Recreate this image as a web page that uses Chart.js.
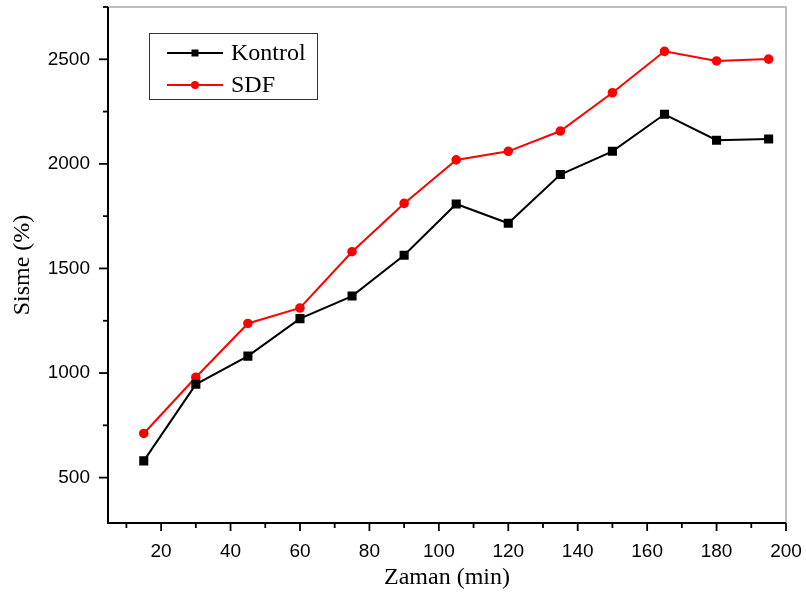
<!DOCTYPE html>
<html>
<head>
<meta charset="utf-8">
<script src="https://cdn.jsdelivr.net/npm/chart.js@4.4.1/dist/chart.umd.min.js"></script>
<style>
  html, body { margin: 0; padding: 0; background: #fff; }
  #wrap { width: 806px; height: 595px; }
</style>
</head>
<body>
<div id="wrap"><canvas id="chart" width="806" height="595"></canvas></div>
<script>
// Data
const zaman = [15, 30, 45, 60, 75, 90, 105, 120, 135, 150, 165, 180, 195];
const kontrol = [580, 946, 1081, 1260, 1368, 1563, 1808, 1716, 1949, 2060, 2237, 2113, 2119];
const sdf = [711, 980, 1237, 1311, 1580, 1811, 2019, 2060, 2157, 2340, 2538, 2492, 2501];
const xTicks = [20, 40, 60, 80, 100, 120, 140, 160, 180, 200];
const yTicks = [500, 1000, 1500, 2000, 2500];

const tickFont = { family: "'Liberation Sans', Arial, sans-serif", size: 19 };
const serif = "'Liberation Serif', 'Times New Roman', serif";

function noPadding(scale) {
    scale.paddingTop = 0;
    scale.paddingBottom = 0;
    scale.paddingLeft = 0;
    scale.paddingRight = 0;
}

// Draws the axis frame, outward tick marks and the boxed legend
const framePlugin = {
    id: 'frame',
    afterDraw(chart) {
        const { ctx, chartArea: a, scales: { x, y } } = chart;
        ctx.save();

        // top and right edges (light grey)
        ctx.strokeStyle = '#a8a8a8';
        ctx.lineWidth = 1.5;
        ctx.beginPath();
        ctx.moveTo(a.left, a.top);
        ctx.lineTo(a.right, a.top);
        ctx.lineTo(a.right, a.bottom);
        ctx.stroke();

        // left and bottom axes (black)
        ctx.strokeStyle = '#000';
        ctx.lineWidth = 2;
        ctx.beginPath();
        ctx.moveTo(a.left, a.top);
        ctx.lineTo(a.left, a.bottom);
        ctx.lineTo(a.right, a.bottom);
        ctx.stroke();

        // x ticks (major every 20, minor every 10)
        ctx.lineWidth = 1.8;
        for (let v = 10; v <= 200; v += 10) {
            const px = x.getPixelForValue(v);
            const len = v % 20 === 0 ? 8 : 5;
            ctx.beginPath();
            ctx.moveTo(px, a.bottom);
            ctx.lineTo(px, a.bottom + len);
            ctx.stroke();
        }
        // y ticks (major every 500, minor every 250)
        for (let v = 500; v <= 2750; v += 250) {
            const py = y.getPixelForValue(v);
            const len = v % 500 === 0 ? 9 : 5;
            ctx.beginPath();
            ctx.moveTo(a.left, py);
            ctx.lineTo(a.left - len, py);
            ctx.stroke();
        }

        // legend box
        const lx = 149, ly = 33, lw = 168, lh = 66;
        ctx.strokeStyle = '#333';
        ctx.lineWidth = 1;
        ctx.strokeRect(lx + 0.5, ly + 0.5, lw, lh);
        ctx.font = '24px ' + serif;
        ctx.textBaseline = 'middle';
        ctx.textAlign = 'left';
        chart.data.datasets.forEach((ds, i) => {
            const cy = 53 + i * 32;
            ctx.strokeStyle = ds.borderColor;
            ctx.lineWidth = 2;
            ctx.beginPath();
            ctx.moveTo(167, cy);
            ctx.lineTo(223, cy);
            ctx.stroke();
            ctx.fillStyle = ds.borderColor;
            ctx.beginPath();
            if (ds.pointStyle === 'rect') {
                ctx.rect(195 - 3.5, cy - 3.5, 7, 7);
            } else {
                ctx.arc(195, cy, 4, 0, Math.PI * 2);
            }
            ctx.fill();
            ctx.fillStyle = '#000';
            ctx.fillText(ds.label, 231, cy + 1);
        });

        ctx.restore();
    }
};

const ctx = document.getElementById('chart').getContext('2d');
new Chart(ctx, {
    type: 'line',
    data: {
        datasets: [{
            label: 'Kontrol',
            data: zaman.map((t, i) => ({ x: t, y: kontrol[i] })),
            borderColor: '#000000',
            backgroundColor: '#000000',
            borderWidth: 2,
            pointStyle: 'rect',
            pointRadius: 5,
            tension: 0
        }, {
            label: 'SDF',
            data: zaman.map((t, i) => ({ x: t, y: sdf[i] })),
            borderColor: '#ff0000',
            backgroundColor: '#ff0000',
            borderWidth: 2,
            pointStyle: 'circle',
            pointRadius: 3.8,
            tension: 0
        }]
    },
    options: {
        responsive: false,
        animation: false,
        layout: { padding: { top: 5, right: 20, left: 0, bottom: 0 } },
        plugins: {
            legend: { display: false },
            tooltip: { enabled: false }
        },
        scales: {
            x: {
                type: 'linear',
                min: 4.7,
                max: 200,
                afterBuildTicks: scale => { scale.ticks = xTicks.map(v => ({ value: v })); },
                afterFit: scale => { scale.height = 72; noPadding(scale); },
                grid: { display: false, drawTicks: false },
                border: { display: false },
                ticks: { font: tickFont, color: '#000', padding: 17, maxRotation: 0, callback: v => String(v) },
                title: {
                    display: true,
                    text: 'Zaman (min)',
                    font: { family: serif, size: 24 },
                    color: '#000',
                    padding: { bottom: 3, top: 0 }
                }
            },
            y: {
                min: 283,
                max: 2750,
                afterBuildTicks: scale => { scale.ticks = yTicks.map(v => ({ value: v })); },
                afterFit: scale => { scale.width = 108; noPadding(scale); },
                grid: { display: false, drawTicks: false },
                border: { display: false },
                ticks: { font: tickFont, color: '#000', padding: 18, callback: v => String(v) },
                title: {
                    display: true,
                    text: 'Sisme (%)',
                    font: { family: serif, size: 24 },
                    color: '#000',
                    padding: { top: 8, bottom: 0 }
                }
            }
        }
    },
    plugins: [framePlugin]
});
</script>
</body>
</html>
